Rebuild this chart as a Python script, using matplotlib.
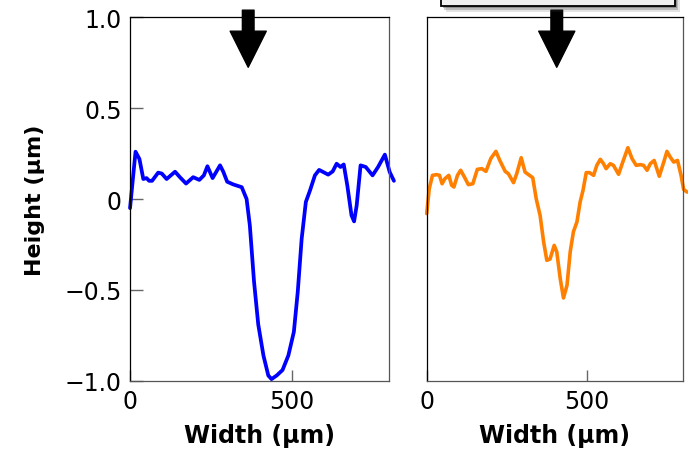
import numpy as np
import matplotlib
matplotlib.use("Agg")
import matplotlib.pyplot as plt
from matplotlib.patches import Rectangle

# profile: width (um) vs height (um)
left_x = [0, 17, 29, 41, 51, 59, 68, 87, 98, 113, 139, 154, 173, 195, 214, 228,
          239, 255, 278, 288, 300, 319, 345, 360, 370, 383, 396, 412, 427, 437,
          453, 471, 489, 506, 518, 530, 543, 556, 571, 584, 597, 612, 626, 638,
          650, 660, 671, 684, 692, 700, 712, 728, 749, 766, 787, 802, 815]
left_y = [-0.05, 0.26, 0.22, 0.11, 0.115, 0.10, 0.10, 0.145, 0.14, 0.11, 0.15,
          0.12, 0.085, 0.12, 0.105, 0.13, 0.18, 0.115, 0.185, 0.15, 0.095, 0.08,
          0.065, 0.0, -0.145, -0.455, -0.69, -0.86, -0.97, -0.99, -0.97, -0.94,
          -0.86, -0.73, -0.51, -0.22, -0.016, 0.048, 0.13, 0.16, 0.148, 0.134,
          0.152, 0.194, 0.176, 0.19, 0.075, -0.09, -0.123, -0.035, 0.185, 0.176,
          0.13, 0.176, 0.244, 0.148, 0.10]

right_x = [0, 8, 18, 31, 40, 48, 57, 69, 78, 85, 96, 106, 118, 130, 144, 158,
           172, 185, 200, 216, 229, 245, 255, 271, 281, 295, 307, 321, 331, 342,
           354, 365, 375, 385, 398, 406, 417, 427, 438, 448, 458, 469, 479, 488,
           498, 508, 521, 531, 542, 552, 560, 573, 583, 599, 612, 628, 641, 654,
           667, 677, 688, 698, 710, 726, 740, 750, 760, 771, 783, 794, 802, 813]
right_y = [-0.08, 0.057, 0.13, 0.134, 0.13, 0.084, 0.112, 0.13, 0.075, 0.066,
           0.13, 0.158, 0.12, 0.079, 0.084, 0.163, 0.167, 0.152, 0.222, 0.262,
           0.209, 0.152, 0.139, 0.09, 0.139, 0.227, 0.148, 0.13, 0.117, 0.0,
           -0.09, -0.236, -0.337, -0.33, -0.255, -0.29, -0.44, -0.544, -0.474,
           -0.29, -0.18, -0.126, -0.016, 0.048, 0.145, 0.145, 0.13, 0.185, 0.218,
           0.194, 0.167, 0.194, 0.185, 0.136, 0.203, 0.282, 0.222, 0.185, 0.189,
           0.185, 0.158, 0.194, 0.212, 0.125, 0.203, 0.262, 0.231, 0.203, 0.212,
           0.13, 0.053, 0.038]

yticks = [-1.0, -0.5, 0, 0.5, 1.0]
ytick_labels = ["\u22121.0", "\u22120.5", "0", "0.5", "1.0"]
xticks = [0, 500]
arrow_x = [365, 406]  # defect position marked by arrows

plt.rcParams["font.family"] = "DejaVu Sans"

fig = plt.figure(figsize=(6.88, 4.52), dpi=100)
ax1 = fig.add_axes([0.189, 0.155, 0.3765, 0.805])
ax2 = fig.add_axes([0.6202, 0.155, 0.3725, 0.805])

ax1.plot(left_x, left_y, color="#0000ff", lw=2.7, clip_on=False,
         solid_joinstyle="round", solid_capstyle="round")
ax2.plot(right_x, right_y, color="#ff8000", lw=2.6, clip_on=False,
         solid_joinstyle="round", solid_capstyle="round")

for ax in (ax1, ax2):
    ax.set_xlim(0, 800)
    ax.set_ylim(-1.0, 1.0)
    ax.set_xticks(xticks)
    ax.set_xticklabels([str(t) for t in xticks])
    ax.tick_params(axis="x", direction="in", length=8, width=1.0,
                   color="#666666", labelsize=17, pad=6)
    ax.spines["left"].set_color("black")
    ax.spines["top"].set_color("black")
    ax.spines["right"].set_color("#555555")
    ax.spines["bottom"].set_color("#555555")
    for s in ax.spines.values():
        s.set_linewidth(0.9)
    ax.set_xlabel("Width (\u00b5m)", fontsize=17, fontweight="bold")
    ax.xaxis.set_label_coords(0.5, -0.115)

ax1.set_yticks(yticks)
ax1.set_yticklabels(ytick_labels)
ax1.tick_params(axis="y", direction="in", length=9, width=1.0,
                color="#666666", labelsize=17, pad=6)
ax1.set_ylabel("Height (\u00b5m)", fontsize=16, fontweight="bold")
ax1.yaxis.set_label_coords(-0.33, 0.5)
ax2.set_yticks([])

# arrows pointing at the defect
for ax, xa in zip((ax1, ax2), arrow_x):
    ax.annotate("", xy=(xa, 0.862), xycoords=("data", "axes fraction"),
                xytext=(xa, 1.019), textcoords=("data", "axes fraction"),
                arrowprops=dict(arrowstyle="simple,head_length=2.6,head_width=2.6,tail_width=0.84",
                                mutation_scale=10, color="black", shrinkA=0, shrinkB=0),
                annotation_clip=False)

# partial framed box at top right (cut by the image edge)
bx, by, bw, bh = 0.6405, 0.9838, 0.3405, 0.06
for off, a in ((0.008, 0.15), (0.005, 0.25), (0.003, 0.35)):
    fig.patches.append(Rectangle((bx + off, by - off * 1.5), bw, bh,
                                 transform=fig.transFigure, facecolor="#444444",
                                 edgecolor="none", alpha=a))
fig.patches.append(Rectangle((bx, by), bw, bh, transform=fig.transFigure,
                             facecolor="#f0f0f0", edgecolor="black", lw=1.3))

fig.savefig("out.png", dpi=100)
